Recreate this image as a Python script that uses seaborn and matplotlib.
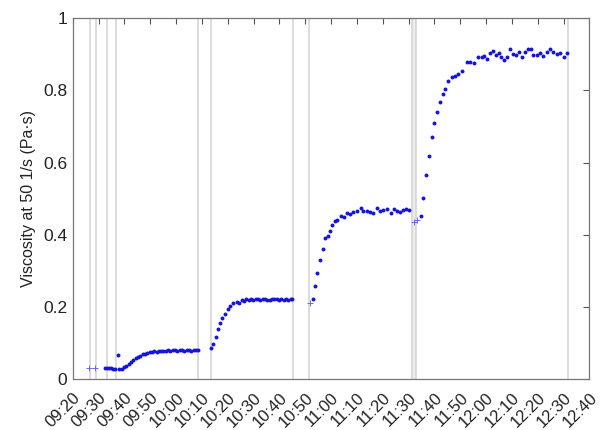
import pandas as pd
import matplotlib.pyplot as plt
import seaborn as sns
import numpy as np

# minutes after 09:20 and viscosity (Pa.s)
seg_a_t = [6.4, 8.6]
seg_a_v = [0.030, 0.030]

seg_b_t = [12.5, 13.3, 14.1, 14.9, 15.6, 16.4, 17.4]
seg_b_v = [0.030, 0.031, 0.030, 0.030, 0.029, 0.028, 0.067]

seg_c_t = [18.0, 18.9, 19.8, 20.7, 21.6, 22.5, 23.4, 24.3, 25.2, 26.1, 27.0, 27.9,
           28.8, 29.7, 30.6, 31.5, 32.4, 33.3, 34.2, 35.1, 36.0, 36.9, 37.8, 38.7,
           39.6, 40.5, 41.4, 42.3, 43.2, 44.1, 45.0, 45.9, 46.8, 47.7, 48.4]
seg_c_v = [0.027, 0.029, 0.033, 0.037, 0.042, 0.048, 0.053, 0.057, 0.061, 0.065, 0.068, 0.070,
           0.072, 0.074, 0.076, 0.077, 0.075, 0.078, 0.077, 0.079, 0.078, 0.080, 0.079, 0.081,
           0.080, 0.079, 0.081, 0.080, 0.078, 0.080, 0.081, 0.079, 0.080, 0.081, 0.080]

seg_d_t = [53.5, 54.4, 55.4, 56.1, 57.0, 57.9, 59.0, 59.9, 60.9, 62.2, 63.5, 64.4,
           65.4, 66.3, 67.2, 68.1, 69.0, 69.9, 70.8, 71.7, 72.6, 73.5, 74.4, 75.3,
           76.2, 77.1, 78.0, 78.9, 79.8, 80.7, 81.6, 82.5, 83.4, 84.3, 84.9]
seg_d_v = [0.087, 0.097, 0.117, 0.138, 0.154, 0.170, 0.180, 0.193, 0.202, 0.210, 0.214, 0.212,
           0.219, 0.217, 0.221, 0.219, 0.222, 0.220, 0.221, 0.223, 0.219, 0.221, 0.222, 0.220,
           0.218, 0.222, 0.221, 0.223, 0.220, 0.222, 0.219, 0.221, 0.220, 0.221, 0.221]

seg_e_t = [91.9, 92.8, 93.8, 94.7, 95.7, 96.8, 97.7, 98.6, 99.6, 100.5, 101.5, 102.4,
           103.8, 104.8, 106.1, 107.4, 108.6, 109.9, 111.5, 112.5, 113.8, 115.1, 116.4,
           117.7, 119.0, 120.2, 121.8, 123.1, 124.4, 125.7, 126.7, 128.0, 129.0, 130.3]
seg_e_v = [0.210, 0.221, 0.259, 0.293, 0.330, 0.360, 0.390, 0.397, 0.411, 0.427, 0.438, 0.441,
           0.452, 0.448, 0.459, 0.457, 0.464, 0.467, 0.473, 0.467, 0.466, 0.464, 0.461,
           0.473, 0.467, 0.468, 0.470, 0.461, 0.470, 0.466, 0.464, 0.468, 0.470, 0.468]

seg_f_t = [131.9, 133.4, 134.7, 135.5, 136.7, 137.8, 139.0, 140.0, 141.0, 142.2, 143.2, 144.1,
           145.4, 146.7, 148.0, 149.3, 150.6, 152.5, 153.8, 155.4, 157.0, 158.3, 159.2, 160.5,
           161.6, 162.6, 163.9, 164.9, 165.9, 167.0, 168.0, 169.3, 170.6, 171.6, 172.7, 174.0,
           175.2, 176.4, 177.3, 178.3, 179.6, 180.9, 182.2, 183.5, 184.8, 186.1, 187.4, 188.7,
           190.0, 191.5]
seg_f_v = [0.436, 0.441, 0.452, 0.501, 0.566, 0.619, 0.672, 0.711, 0.741, 0.767, 0.790, 0.803,
           0.826, 0.836, 0.840, 0.846, 0.854, 0.880, 0.878, 0.875, 0.892, 0.894, 0.895, 0.887,
           0.903, 0.910, 0.898, 0.905, 0.892, 0.884, 0.892, 0.914, 0.900, 0.898, 0.907, 0.892,
           0.907, 0.914, 0.916, 0.898, 0.898, 0.903, 0.895, 0.907, 0.914, 0.906, 0.901, 0.903,
           0.894, 0.905]

# points drawn as '+' in the original
plus_t = [6.4, 8.6, 91.9, 131.9, 133.4]

# gray vertical markers (minutes after 09:20)
event_t = [6.7, 8.9, 13.2, 16.8, 48.6, 53.4, 85.1, 91.5, 131.4, 132.9, 191.9]
band_t = [131.4, 132.9]

tick_labels = ["09:20", "09:30", "09:40", "09:50", "10:00", "10:10", "10:20", "10:30",
               "10:40", "10:50", "11:00", "11:10", "11:20", "11:30", "11:40", "11:50",
               "12:00", "12:10", "12:20", "12:30", "12:40"]

all_t = seg_a_t + seg_b_t + seg_c_t + seg_d_t + seg_e_t + seg_f_t
all_v = seg_a_v + seg_b_v + seg_c_v + seg_d_v + seg_e_v + seg_f_v
df = pd.DataFrame({'Time': all_t, 'Viscosity': all_v})
df['kind'] = np.where(df['Time'].isin(plus_t), 'plus', 'dot')

sns.set_style("white")
plt.rcParams['font.family'] = ['Liberation Sans', 'DejaVu Sans']

fig = plt.figure(figsize=(6.07, 4.30), dpi=100)
ax = fig.add_axes([0.12, 0.1186, 0.851, 0.8388])

ax.axvspan(band_t[0], band_t[1], color="#ececec", linewidth=0, zorder=0)
for t in event_t:
    ax.axvline(t, color="#d6d6d6", linewidth=1.2, zorder=0)

sns.scatterplot(data=df[df['kind'] == 'dot'], x='Time', y='Viscosity', ax=ax,
                color="#1414dc", marker='o', s=8, linewidth=0, zorder=3)
sns.scatterplot(data=df[df['kind'] == 'plus'], x='Time', y='Viscosity', ax=ax,
                color="#6a6ae8", marker='+', s=14, linewidth=0.7, zorder=3)

ax.set_xlim(0, 200)
ax.set_ylim(0, 1)
ax.set_xticks(np.arange(0, 201, 10))
ax.set_xticklabels(tick_labels, rotation=45, ha='right', va='top',
                   rotation_mode='anchor', fontsize=12, color="#222222")
ax.set_yticks([0, 0.2, 0.4, 0.6, 0.8, 1.0])
ax.set_yticklabels(["0", "0.2", "0.4", "0.6", "0.8", "1"], fontsize=12.5, color="#222222")
ax.tick_params(direction='in', top=True, right=True, length=4, width=0.8,
               color="#555555", pad=4)
ax.tick_params(axis='x', pad=8)
for sp in ax.spines.values():
    sp.set_color("#777777")
    sp.set_linewidth(0.9)

ax.set_xlabel("")
ax.set_ylabel("Viscosity at 50 1/s (Pa·s)", fontsize=11.5, color="#222222", labelpad=5)

plt.savefig("out.png", dpi=100)
